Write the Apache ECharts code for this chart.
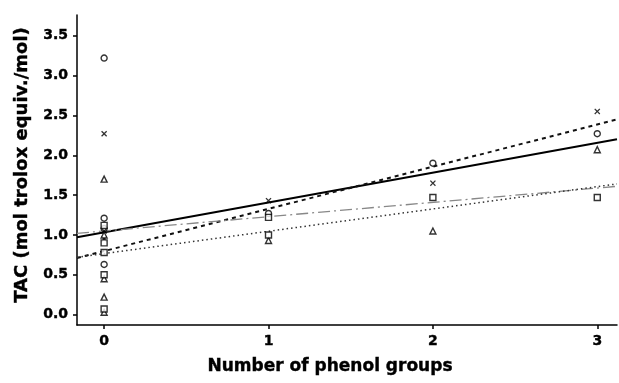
<!DOCTYPE html>
<html>
<head>
<meta charset="utf-8">
<script src="https://cdn.jsdelivr.net/npm/echarts@6/dist/echarts.min.js"></script>
<style>
html,body{margin:0;padding:0;background:#fff;}
#c{width:619px;height:383px;}
</style>
</head>
<body>
<div id="c"></div>
<script>
// ---- data ----
var xTicks = [0, 1, 2, 3];
var yTicks = [0.0, 0.5, 1.0, 1.5, 2.0, 2.5, 3.0, 3.5];

var circleX = [0, 0, 0, 0, 1, 2, 3];
var circleY = [3.22, 1.21, 1.08, 0.63, 1.27, 1.90, 2.27];

var crossX = [0, 0, 0, 1, 2, 3];
var crossY = [2.27, 1.05, 0.95, 1.43, 1.65, 2.55];

var triX = [0, 0, 0, 0, 0, 1, 2, 3];
var triY = [1.70, 1.00, 0.45, 0.22, 0.03, 0.93, 1.05, 2.07];

var squareX = [0, 0, 0, 0, 0, 1, 1, 2, 3];
var squareY = [1.12, 0.90, 0.78, 0.50, 0.07, 1.22, 1.00, 1.47, 1.47];

// fitted lines: value at left and right end of the x axis
var lineEndsX = [-0.165, 3.12];
var solidFit = [0.97, 2.20];
var dashedFit = [0.71, 2.45];
var dashDotFit = [1.02, 1.61];
var dottedFit = [0.72, 1.64];

function pairs(xs, ys) { return xs.map(function (x, i) { return [x, ys[i]]; }); }

var crossPath = 'path://M0,1.5L1.5,0L5,3.5L8.5,0L10,1.5L6.5,5L10,8.5L8.5,10L5,6.5L1.5,10L0,8.5L3.5,5Z';
var FONT = '"DejaVu Sans", "Liberation Sans", Arial, sans-serif';

var chart = echarts.init(document.getElementById('c'), null, {renderer: 'canvas'});
chart.setOption({
  animation: false,
  backgroundColor: '#fff',
  grid: {left: 77, right: 2, top: 15, bottom: 58, containLabel: false},
  xAxis: {
    type: 'value', min: -0.165, max: 3.12,
    interval: 1,
    axisLine: {show: true, onZero: false, lineStyle: {color: '#000', width: 1.5}},
    axisTick: {show: true, length: 4, lineStyle: {color: '#000', width: 1.5},
      customValues: xTicks},
    axisLabel: {color: '#000', fontFamily: FONT, fontWeight: 'bold', fontSize: 14, margin: 9,
      textBorderColor: '#000', textBorderWidth: 0.4,
      customValues: xTicks, formatter: function (v) { return String(Math.round(v)); }},
    splitLine: {show: false},
    name: 'Number of phenol groups', nameLocation: 'middle', nameGap: 33,
    nameTextStyle: {color: '#000', fontFamily: FONT, fontWeight: 'bold', fontSize: 17,
      textBorderColor: '#000', textBorderWidth: 0.4, padding: [0, 34, 0, 0]}
  },
  yAxis: {
    type: 'value', min: -0.13, max: 3.76,
    axisLine: {show: true, onZero: false, lineStyle: {color: '#000', width: 1.5}},
    axisTick: {show: true, length: 4, lineStyle: {color: '#000', width: 1.5},
      customValues: yTicks},
    axisLabel: {color: '#000', fontFamily: FONT, fontWeight: 'bold', fontSize: 14, margin: 9,
      textBorderColor: '#000', textBorderWidth: 0.4,
      customValues: yTicks, formatter: function (v) { return v.toFixed(1); }},
    splitLine: {show: false},
    name: 'TAC (mol trolox equiv./mol)', nameLocation: 'middle', nameGap: 46,
    nameTextStyle: {color: '#000', fontFamily: FONT, fontWeight: 'bold', fontSize: 18,
      textBorderColor: '#000', textBorderWidth: 0.4, padding: [0, 0, 0, 10]}
  },
  series: [
    {type: 'line', data: pairs(lineEndsX, solidFit), showSymbol: false, silent: true, z: 2,
      lineStyle: {color: '#000', width: 2}},
    {type: 'line', data: pairs(lineEndsX, dashedFit), showSymbol: false, silent: true, z: 2,
      lineStyle: {color: '#111', width: 2, type: [4, 4]}},
    {type: 'line', data: pairs(lineEndsX, dashDotFit), showSymbol: false, silent: true, z: 2,
      lineStyle: {color: '#888', width: 1.3, type: [12, 4, 2, 4]}},
    {type: 'line', data: pairs(lineEndsX, dottedFit), showSymbol: false, silent: true, z: 2,
      lineStyle: {color: '#333', width: 1.5, type: [1.5, 3]}},
    {type: 'scatter', data: pairs(circleX, circleY), symbol: 'circle', symbolSize: 6, z: 5,
      itemStyle: {color: '#fff', borderColor: '#000', borderWidth: 1.4}},
    {type: 'scatter', data: pairs(crossX, crossY), symbol: crossPath, symbolSize: 6, z: 5,
      itemStyle: {color: '#000'}},
    {type: 'scatter', data: pairs(triX, triY), symbol: 'triangle', symbolSize: 6, z: 5,
      itemStyle: {color: '#fff', borderColor: '#000', borderWidth: 1.4}},
    {type: 'scatter', data: pairs(squareX, squareY), symbol: 'rect', symbolSize: 6, z: 5,
      itemStyle: {color: '#fff', borderColor: '#000', borderWidth: 1.4}}
  ]
});
</script>
</body>
</html>
